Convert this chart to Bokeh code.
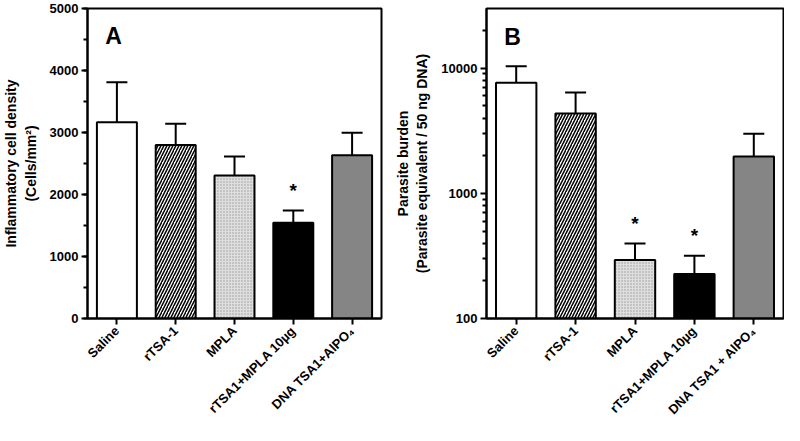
import math
from bokeh.plotting import figure
from bokeh.layouts import row
from bokeh.models import (FactorRange, Range1d, ColumnDataSource, Whisker, TeeHead, Label,
                          SingleIntervalTicker, FixedTicker, PrintfTickFormatter)
from bokeh.core.properties import value
from bokeh.embed import file_html
from bokeh.resources import INLINE

# ---------------- data ----------------
groups_a = ["Saline", "rTSA-1", "MPLA", "rTSA1+MPLA 10µg", "DNA TSA1+AlPO₄"]
groups_b = ["Saline", "rTSA-1", "MPLA", "rTSA1+MPLA 10µg", "DNA TSA1 + AlPO₄"]

density_mean = [3165, 2800, 2305, 1545, 2635]
density_upper = [3810, 3140, 2612, 1740, 2995]
density_star = ["", "", "", "*", ""]

burden_mean = [7650, 4350, 294, 227, 1970]
burden_upper = [10370, 6400, 397, 317, 2990]
burden_star = ["", "", "*", "*", ""]

density_ticks = [0, 1000, 2000, 3000, 4000, 5000]
burden_ticks = [100, 1000, 10000]
burden_minor = [200, 300, 400, 500, 600, 700, 800, 900,
                2000, 3000, 4000, 5000, 6000, 7000, 8000, 9000, 20000]

fill_colors = ["#ffffff", "#ffffff", "#dedede", "#000000", "#858585"]
hatch_patterns = [" ", "/", ".", " ", " "]
hatch_colors = ["#000000", "#000000", "#9a9a9a", "#000000", "#000000"]
hatch_scales = [6, 6, 3, 6, 6]
hatch_weights = [1.5, 1.5, 0.8, 1.5, 1.5]

FONT = "Liberation Sans"


def style(p, ylabel):
    p.outline_line_color = "black"
    p.outline_line_width = 2
    p.outline_line_alpha = 1
    p.xgrid.visible = False
    p.ygrid.visible = False
    p.background_fill_color = "white"
    p.border_fill_color = "white"
    for ax in (p.xaxis[0], p.yaxis[0]):
        ax.axis_line_width = 2
        ax.axis_line_color = "black"
        ax.major_tick_line_width = 2
        ax.major_tick_line_color = "black"
        ax.minor_tick_line_width = 2
        ax.minor_tick_line_color = "black"
        ax.major_tick_in = 0
        ax.major_tick_out = 6
        ax.minor_tick_in = 0
        ax.minor_tick_out = 4
        ax.major_label_text_font = FONT
        ax.major_label_text_font_style = "bold"
        ax.major_label_text_font_size = "13px"
        ax.major_label_text_color = "black"
    p.xaxis.major_label_orientation = math.pi / 4
    p.xaxis.major_label_standoff = 4
    p.yaxis.axis_label = ylabel
    p.yaxis.axis_label_text_font = FONT
    p.yaxis.axis_label_text_font_style = "bold"
    p.yaxis.axis_label_text_font_size = "14px"
    p.yaxis.axis_label_text_color = "black"
    p.yaxis.axis_label_standoff = 8
    p.yaxis.major_label_standoff = 3


def draw(p, groups, means, upper, stars, base):
    src = ColumnDataSource(dict(x=groups, top=means, upper=upper, star=stars,
                                fill=fill_colors, hatch=hatch_patterns, hcol=hatch_colors,
                                hscale=hatch_scales, hweight=hatch_weights))
    p.vbar(x="x", top="top", bottom=base, width=0.68, source=src,
           fill_color="fill", line_color="black", line_width=2,
           hatch_pattern="hatch", hatch_color="hcol", hatch_scale="hscale",
           hatch_weight="hweight")
    w = Whisker(base="x", upper="upper", lower="top", source=src,
                line_color="black", line_width=2, lower_head=None,
                upper_head=TeeHead(size=21, line_width=2, line_color="black"))
    w.level = "overlay"
    p.add_layout(w)
    p.text(x="x", y="upper", text="star", source=src, text_align="center",
           text_baseline="middle", y_offset=-20, text_font=value(FONT),
           text_font_style="bold", text_font_size="19px", text_color="black")


# ---------------- panel A ----------------
pa = figure(width=392, height=425, output_backend="svg", toolbar_location=None,
            x_range=FactorRange(*groups_a, range_padding=0),
            y_range=Range1d(0, 5000),
            min_border_left=79, min_border_right=11, min_border_top=8, min_border_bottom=104)
draw(pa, groups_a, density_mean, density_upper, density_star, 0)
style(pa, "Inflammatory cell density\n(Cells/mm²)")
pa.yaxis.ticker = SingleIntervalTicker(interval=1000, num_minor_ticks=2)
pa.add_layout(Label(x=0.3, y=4760, text="A", text_font=FONT, text_font_style="bold",
                    text_font_size="23px", text_baseline="top", text_color="black"))

# ---------------- panel B ----------------
pb = figure(width=392, height=425, output_backend="svg", toolbar_location=None,
            x_range=FactorRange(*groups_b, range_padding=0),
            y_range=Range1d(100, 30000), y_axis_type="log",
            min_border_left=89, min_border_right=1, min_border_top=8, min_border_bottom=104)
draw(pb, groups_b, burden_mean, burden_upper, burden_star, 100)
style(pb, "Parasite burden\n(Parasite equivalent / 50 ng DNA)")
pb.yaxis.ticker = FixedTicker(ticks=burden_ticks, minor_ticks=burden_minor)
pb.yaxis.formatter = PrintfTickFormatter(format="%d")
pb.add_layout(Label(x=0.3, y=22500, text="B", text_font=FONT, text_font_style="bold",
                    text_font_size="23px", text_baseline="top", text_color="black"))

layout = row(pa, pb, spacing=0)
open("out.html", "w").write(file_html(layout, INLINE))
